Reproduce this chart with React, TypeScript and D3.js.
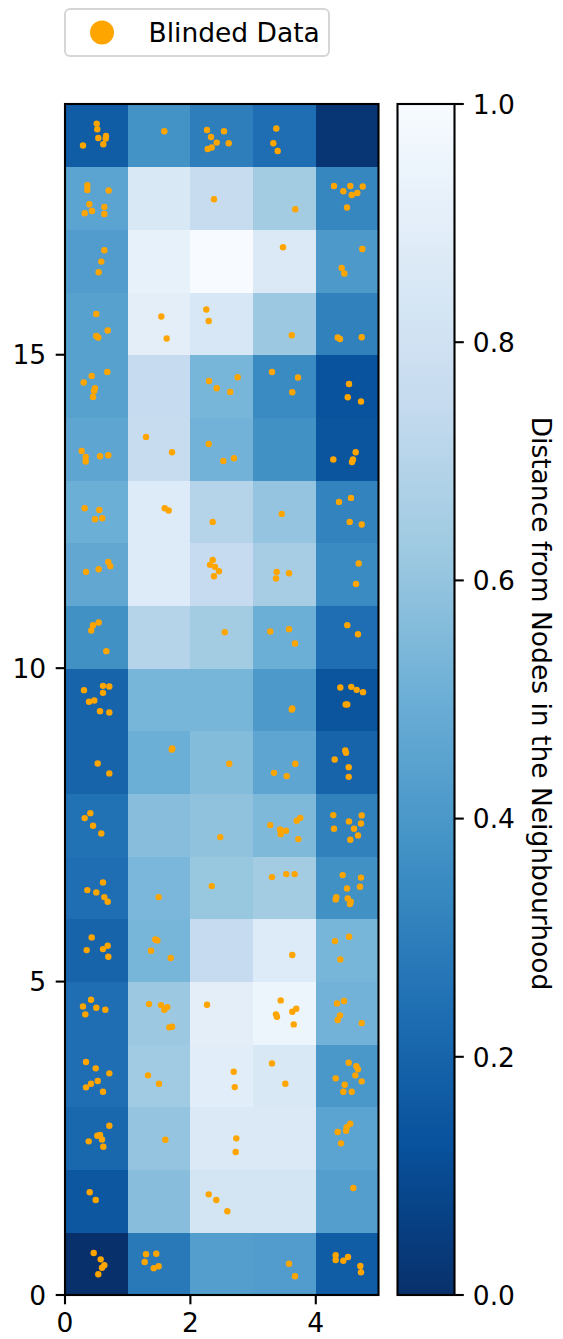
import React from "react";
import * as d3 from "d3";

// U-matrix of a 5 x 19 self-organising map: each entry is the normalised mean
// distance of a node to its neighbours (row 0 = bottom of the map).
const distanceRows: number[][] = [
  [0.0, 0.28, 0.43, 0.42, 0.17],
  [0.15, 0.57, 0.82, 0.82, 0.43],
  [0.21, 0.6, 0.86, 0.86, 0.45],
  [0.24, 0.63, 0.89, 0.85, 0.4],
  [0.24, 0.62, 0.9, 0.95, 0.52],
  [0.2, 0.53, 0.75, 0.87, 0.53],
  [0.24, 0.54, 0.61, 0.64, 0.37],
  [0.25, 0.57, 0.59, 0.55, 0.31],
  [0.2, 0.5, 0.56, 0.46, 0.2],
  [0.2, 0.53, 0.53, 0.41, 0.14],
  [0.37, 0.7, 0.64, 0.5, 0.24],
  [0.47, 0.87, 0.75, 0.65, 0.35],
  [0.5, 0.87, 0.7, 0.6, 0.32],
  [0.46, 0.76, 0.52, 0.37, 0.14],
  [0.44, 0.75, 0.53, 0.35, 0.13],
  [0.44, 0.9, 0.84, 0.62, 0.31],
  [0.42, 0.92, 1.0, 0.86, 0.41],
  [0.45, 0.85, 0.76, 0.64, 0.33],
  [0.17, 0.38, 0.3, 0.24, 0.02],
];

// Blinded samples mapped onto their winning nodes (with jitter inside the cell).
const blindedPoints: [number, number][] = [
  // row 0
  [0.458, 0.67], [0.569, 0.569], [0.627, 0.474], [0.59, 0.435], [0.531, 0.33],
  [1.292, 0.649], [1.456, 0.659], [1.271, 0.526], [1.415, 0.426], [1.494, 0.458],
  [3.573, 0.499], [3.668, 0.298],
  [4.317, 0.633], [4.317, 0.558], [4.439, 0.547], [4.514, 0.606], [4.71, 0.463], [4.721, 0.362],
  // row 1
  [0.394, 1.638], [0.49, 1.515],
  [2.292, 1.606], [2.413, 1.515], [2.589, 1.335],
  [4.598, 1.707],
  // row 2
  [0.707, 2.7], [0.558, 2.552], [0.515, 2.541], [0.378, 2.451], [0.59, 2.48], [0.611, 2.365],
  [1.6, 2.477],
  [2.732, 2.499], [2.722, 2.281],
  [4.55, 2.732], [4.493, 2.675], [4.482, 2.62], [4.349, 2.6], [4.402, 2.419],
  // row 3
  [0.335, 3.716], [0.49, 3.616], [0.707, 3.536], [0.522, 3.413], [0.415, 3.37], [0.335, 3.313], [0.606, 3.242],
  [1.324, 3.504], [1.499, 3.37],
  [2.691, 3.561], [2.707, 3.317],
  [3.301, 3.695], [3.514, 3.37],
  [4.525, 3.705], [4.646, 3.652], [4.673, 3.6], [4.63, 3.504], [4.317, 3.456], [4.461, 3.354],
  [4.732, 3.408], [4.439, 3.242], [4.573, 3.242],
  // row 4
  [0.415, 4.71], [0.287, 4.604], [0.499, 4.582], [0.643, 4.55], [0.324, 4.477],
  [1.34, 4.641], [1.531, 4.625], [1.632, 4.593], [1.584, 4.55], [1.663, 4.27], [1.707, 4.279],
  [2.265, 4.63],
  [3.44, 4.7], [3.365, 4.477], [3.381, 4.439], [3.625, 4.518], [3.689, 4.566], [3.648, 4.317],
  [4.45, 4.689], [4.338, 4.652], [4.386, 4.461], [4.349, 4.386], [4.732, 4.338],
  // row 5
  [0.426, 5.705], [0.346, 5.502], [0.606, 5.518], [0.681, 5.571], [0.691, 5.396],
  [1.44, 5.673], [1.472, 5.657], [1.372, 5.491], [1.686, 5.375],
  [3.625, 5.423],
  [4.306, 5.646], [4.53, 5.715], [4.391, 5.354],
  // row 6
  [0.606, 6.582], [0.356, 6.459], [0.499, 6.423], [0.627, 6.348], [0.681, 6.273],
  [1.494, 6.348],
  [2.34, 6.523],
  [3.301, 6.667], [3.529, 6.715], [3.663, 6.715],
  [4.429, 6.699], [4.721, 6.659], [4.498, 6.486], [4.705, 6.512], [4.327, 6.348], [4.317, 6.311],
  [4.509, 6.327], [4.557, 6.273], [4.545, 6.236],
  // row 7
  [0.404, 7.687], [0.314, 7.608], [0.447, 7.485], [0.579, 7.364],
  [2.477, 7.305],
  [3.274, 7.496], [3.429, 7.427], [3.44, 7.352], [3.525, 7.405], [3.695, 7.565], [3.753, 7.612], [3.721, 7.273],
  [4.279, 7.656], [4.732, 7.651], [4.529, 7.555], [4.721, 7.523], [4.29, 7.437], [4.609, 7.437],
  [4.673, 7.332], [4.55, 7.262],
  // row 8
  [0.522, 8.48], [0.707, 8.321],
  [1.711, 8.719], [1.702, 8.703],
  [2.62, 8.474],
  [3.673, 8.474], [3.333, 8.33], [3.536, 8.278],
  [4.47, 8.687], [4.482, 8.649], [4.301, 8.544], [4.525, 8.421], [4.525, 8.266],
  // row 9
  [0.303, 9.649], [0.606, 9.718], [0.707, 9.708], [0.606, 9.606], [0.383, 9.463], [0.467, 9.485],
  [0.558, 9.314], [0.707, 9.293],
  [3.625, 9.357], [3.616, 9.341],
  [4.391, 9.692], [4.566, 9.702], [4.652, 9.654], [4.753, 9.617], [4.477, 9.421], [4.502, 9.421],
  // row 10
  [0.537, 10.729], [0.447, 10.686], [0.419, 10.601], [0.659, 10.271],
  [2.547, 10.574],
  [3.274, 10.585], [3.573, 10.622], [3.668, 10.394],
  [4.502, 10.686], [4.673, 10.542],
  // row 11
  [0.335, 11.536], [0.537, 11.579], [0.691, 11.695], [0.722, 11.627],
  [2.356, 11.727], [2.313, 11.648], [2.392, 11.616], [2.456, 11.547], [2.376, 11.467],
  [3.376, 11.536], [3.365, 11.431], [3.573, 11.515],
  [4.684, 11.67], [4.641, 11.344],
  // row 12
  [0.314, 12.552], [0.547, 12.525], [0.478, 12.376], [0.595, 12.392],
  [1.59, 12.552], [1.654, 12.515],
  [2.356, 12.333],
  [3.456, 12.461],
  [4.37, 12.652], [4.561, 12.716], [4.541, 12.333], [4.732, 12.292],
  // row 13
  [0.266, 13.466], [0.33, 13.37], [0.33, 13.297], [0.558, 13.381], [0.691, 13.397],
  [1.292, 13.689], [1.707, 13.445],
  [2.292, 13.577], [2.525, 13.306], [2.695, 13.349],
  [4.636, 13.445], [4.279, 13.329], [4.593, 13.329], [4.577, 13.29],
  // row 14
  [0.675, 14.726], [0.426, 14.662], [0.298, 14.557], [0.478, 14.466], [0.463, 14.423], [0.447, 14.327],
  [2.297, 14.582], [2.754, 14.641], [2.419, 14.466], [2.636, 14.407],
  [3.301, 14.726], [3.716, 14.636], [3.625, 14.402],
  [4.53, 14.534], [4.509, 14.322], [4.721, 14.254],
  // row 15
  [0.499, 15.651], [0.681, 15.386], [0.499, 15.3], [0.531, 15.274],
  [1.536, 15.609], [1.622, 15.258],
  [2.254, 15.721], [2.292, 15.539],
  [3.616, 15.311],
  [4.349, 15.274], [4.386, 15.252], [4.732, 15.279],
  // row 16
  [0.627, 16.667], [0.579, 16.486], [0.537, 16.316],
  [3.477, 16.715],
  [4.742, 16.688], [4.413, 16.384], [4.455, 16.295],
  // row 17
  [0.356, 17.703], [0.356, 17.628], [0.697, 17.619], [0.388, 17.4], [0.627, 17.357], [0.431, 17.293],
  [0.314, 17.257], [0.627, 17.246],
  [2.376, 17.48],
  [3.673, 17.321],
  [4.29, 17.692], [4.55, 17.692], [4.748, 17.683], [4.439, 17.608], [4.662, 17.581], [4.573, 17.549],
  [4.498, 17.348],
  // row 18
  [0.506, 18.687], [0.515, 18.596], [0.531, 18.458], [0.654, 18.49], [0.649, 18.448], [0.611, 18.357],
  [0.287, 18.337],
  [1.584, 18.565],
  [2.265, 18.585], [2.536, 18.565], [2.329, 18.474], [2.419, 18.384], [2.611, 18.373], [2.34, 18.305],
  [2.276, 18.282],
  [3.37, 18.608], [3.322, 18.373], [3.392, 18.25],
];

const xTicks = [0, 2, 4];
const yTicks = [0, 5, 10, 15];
const colorTicks = [0, 0.2, 0.4, 0.6, 0.8, 1.0];

// Matplotlib "Blues" anchor colours, reversed so 0 is dark and 1 is light.
const bluesAnchors = [
  "#f7fbff", "#deebf7", "#c6dbef", "#9ecae1", "#6baed6",
  "#4292c6", "#2171b5", "#08519c", "#08306b",
];

const legendLabel = "Blinded Data";
const colorbarLabel = "Distance from Nodes in the Neighbourhood";

const W = 563;
const H = 1339;
const FONT = "'DejaVu Sans', 'Liberation Sans', sans-serif";
const FS = 26.5;
const TICK = 9.3;
const LW = 2.1;

export default function App() {
  const nCols = distanceRows[0].length;
  const nRows = distanceRows.length;

  const plot = { left: 65, right: 378.5, top: 104, bottom: 1295 };
  const cbar = { left: 397.5, right: 454.5 };

  const x = d3.scaleLinear().domain([0, nCols]).range([plot.left, plot.right]);
  const y = d3.scaleLinear().domain([0, nRows]).range([plot.bottom, plot.top]);
  const cy = d3.scaleLinear().domain([0, 1]).range([plot.bottom, plot.top]);

  const reversed = bluesAnchors.slice().reverse();
  const color = d3
    .scaleLinear<string>()
    .domain(reversed.map((_, i) => i / (reversed.length - 1)))
    .range(reversed)
    .interpolate(d3.interpolateRgb)
    .clamp(true);

  const cells: { r: number; c: number; v: number }[] = [];
  distanceRows.forEach((row, r) => row.forEach((v, c) => cells.push({ r, c, v })));

  const gradStops = d3.range(0, 1.0001, 0.025);

  return (
    <svg
      width={W}
      height={H}
      viewBox={`0 0 ${W} ${H}`}
      style={{ position: "absolute", left: 0, top: 0, background: "#fff" }}
      fontFamily={FONT}
    >
      <defs>
        <linearGradient id="cbGrad" x1="0" y1="1" x2="0" y2="0">
          {gradStops.map((t) => (
            <stop key={t} offset={t} stopColor={color(t)} />
          ))}
        </linearGradient>
      </defs>

      {/* heatmap cells */}
      <g shapeRendering="crispEdges">
        {cells.map(({ r, c, v }) => (
          <rect
            key={`${r}-${c}`}
            x={x(c)}
            y={y(r + 1)}
            width={x(c + 1) - x(c) + 0.5}
            height={y(r) - y(r + 1) + 0.5}
            fill={color(v)}
          />
        ))}
      </g>

      {/* blinded samples */}
      <g fill="#ffa500">
        {blindedPoints.map(([px, py], i) => (
          <circle key={i} cx={x(px)} cy={y(py)} r={3.2} />
        ))}
      </g>

      {/* frame */}
      <rect
        x={plot.left}
        y={plot.top}
        width={plot.right - plot.left}
        height={plot.bottom - plot.top}
        fill="none"
        stroke="#000"
        strokeWidth={LW}
      />

      {/* x axis */}
      <g>
        {xTicks.map((t) => (
          <g key={t}>
            <line x1={x(t)} x2={x(t)} y1={plot.bottom} y2={plot.bottom + TICK} stroke="#000" strokeWidth={LW} />
            <text x={x(t)} y={plot.bottom + 37} textAnchor="middle" fontSize={FS} fill="#000">
              {t}
            </text>
          </g>
        ))}
      </g>

      {/* y axis */}
      <g>
        {yTicks.map((t) => (
          <g key={t}>
            <line x1={plot.left - TICK} x2={plot.left} y1={y(t)} y2={y(t)} stroke="#000" strokeWidth={LW} />
            <text x={plot.left - TICK - 9.5} y={y(t) + 9.7} textAnchor="end" fontSize={FS} fill="#000">
              {t}
            </text>
          </g>
        ))}
      </g>

      {/* colorbar */}
      <rect
        x={cbar.left}
        y={plot.top}
        width={cbar.right - cbar.left}
        height={plot.bottom - plot.top}
        fill="url(#cbGrad)"
        stroke="#000"
        strokeWidth={LW}
      />
      <g>
        {colorTicks.map((t) => (
          <g key={t}>
            <line x1={cbar.right} x2={cbar.right + TICK} y1={cy(t)} y2={cy(t)} stroke="#000" strokeWidth={LW} />
            <text x={cbar.right + TICK + 9} y={cy(t) + 9.7} textAnchor="start" fontSize={FS} fill="#000">
              {t.toFixed(1)}
            </text>
          </g>
        ))}
      </g>
      <text
        transform={`translate(532, ${(plot.top + plot.bottom) / 2 + 4}) rotate(90)`}
        textAnchor="middle"
        fontSize={FS}
        fill="#000"
      >
        {colorbarLabel}
      </text>

      {/* legend */}
      <g>
        <rect x={65} y={9} width={264} height={47} rx={5} ry={5} fill="#fff" stroke="#d6d6d6" strokeWidth={2} />
        <circle cx={102} cy={32.5} r={12} fill="#ffa500" />
        <text x={148.5} y={41.5} fontSize={FS} fill="#000">
          {legendLabel}
        </text>
      </g>
    </svg>
  );
}
